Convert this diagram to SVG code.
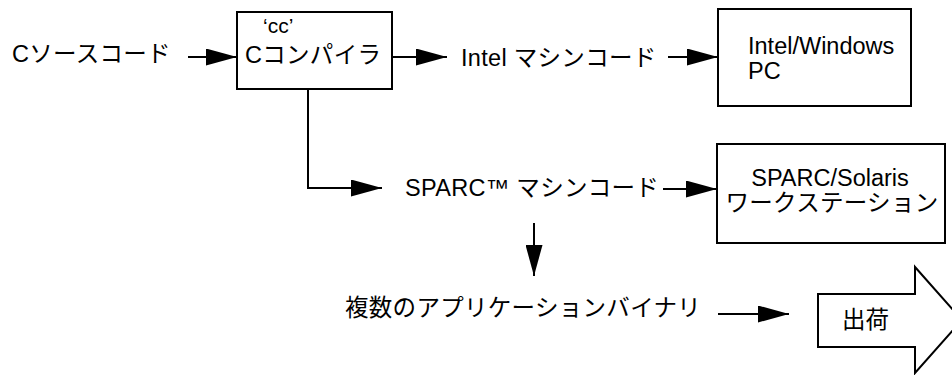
<svg xmlns="http://www.w3.org/2000/svg" width="952" height="375" viewBox="0 0 952 375">
<style>
  .box{fill:#fff;stroke:#000;stroke-width:2}
  .t{font-family:"Liberation Sans","Noto Sans CJK JP",sans-serif;font-size:23.5px;fill:#000}
  .j{letter-spacing:0.3px}
  .ln{fill:none;stroke:#000;stroke-width:2;marker-end:url(#ah)}
</style>
<defs>
  <marker id="ah" markerUnits="userSpaceOnUse" markerWidth="31" markerHeight="17" refX="31" refY="8.5" orient="auto">
    <path d="M0,0 L31,8.5 L0,17 z" fill="#000"/>
  </marker>
</defs>
<rect width="952" height="375" fill="#fff"/>
<g id="source">
  <text class="t j" x="12" y="62">Cソースコード</text>
</g>
<g id="compiler">
  <rect class="box" x="237" y="12" width="155" height="77"/>
  <text class="t" x="263" y="33" style="font-size:21px">‘cc’</text>
  <text class="t j" x="245" y="63">Cコンパイラ</text>
</g>
<g id="intel-code">
  <text class="t j" x="461" y="66">Intel マシンコード</text>
</g>
<g id="intel-pc">
  <rect class="box" x="718" y="9" width="193" height="97"/>
  <text class="t" x="748" y="54">Intel/Windows</text>
  <text class="t" x="748" y="79">PC</text>
</g>
<g id="sparc-code">
  <text class="t j" x="405" y="196">SPARC™ マシンコード</text>
</g>
<g id="sparc-ws">
  <rect class="box" x="717" y="144" width="228" height="99"/>
  <text class="t" x="830" y="186" text-anchor="middle">SPARC/Solaris</text>
  <text class="t j" x="832" y="211" text-anchor="middle">ワークステーション</text>
</g>
<g id="binaries">
  <text class="t j" x="345" y="316">複数のアプリケーションバイナリ</text>
</g>
<g id="ship">
  <path class="box" d="M818,294 H915 V267 L962,320 L915,373 V347 H818 Z"/>
  <text class="t" x="842" y="328">出荷</text>
</g>
<g id="connectors">
  <line class="ln" x1="188" y1="57" x2="237" y2="57"/>
  <line class="ln" x1="392" y1="57" x2="447" y2="57"/>
  <line class="ln" x1="668" y1="57" x2="718" y2="57"/>
  <polyline class="ln" points="308,89 308,188 382,188"/>
  <line class="ln" x1="663" y1="189" x2="717" y2="189"/>
  <line class="ln" x1="534" y1="223" x2="534" y2="276"/>
  <line class="ln" x1="718" y1="314" x2="789" y2="314"/>
</g>
</svg>
